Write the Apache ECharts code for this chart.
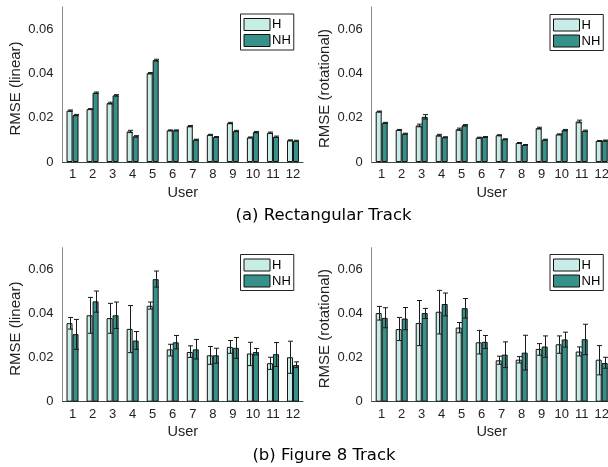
<!DOCTYPE html>
<html>
<head>
<meta charset="utf-8">
<script src="https://cdn.jsdelivr.net/npm/echarts@6/dist/echarts.min.js"></script>
<style>html,body{margin:0;padding:0;background:#fff;}#c{width:608px;height:467px;}</style>
</head>
<body>
<div id="c"></div>
<script>
// ---- data ----
const users = ['1','2','3','4','5','6','7','8','9','10','11','12'];
const seriesNames = ['H', 'NH'];
const yTicks = [0, 0.02, 0.04, 0.06];
const captions = ['(a) Rectangular Track', '(b) Figure 8 Track'];

// (a) Rectangular track, linear RMSE
const rectLinH   = [0.0232,0.0239,0.0266,0.0138,0.0401,0.0143,0.0162,0.0123,0.0176,0.0111,0.0132,0.0098];
const rectLinNH  = [0.0212,0.0313,0.0301,0.0116,0.0460,0.0143,0.0101,0.0113,0.0140,0.0135,0.0114,0.0096];
const rectLinErrH  = [0.0003,0.0002,0.0004,0.0005,0.0003,0.0002,0.0003,0.0002,0.0003,0.0002,0.0003,0.0002];
const rectLinErrNH = [0.0003,0.0003,0.0003,0.0003,0.0004,0.0002,0.0002,0.0002,0.0003,0.0003,0.0003,0.0002];
// (a) Rectangular track, rotational RMSE
const rectRotH   = [0.0228,0.0145,0.0165,0.0121,0.0148,0.0110,0.0121,0.0086,0.0153,0.0125,0.0183,0.0095];
const rectRotNH  = [0.0177,0.0128,0.0204,0.0112,0.0166,0.0113,0.0103,0.0077,0.0101,0.0144,0.0141,0.0097];
const rectRotErrH  = [0.0002,0.0002,0.0006,0.0004,0.0005,0.0002,0.0002,0.0002,0.0004,0.0002,0.0006,0.0002];
const rectRotErrNH = [0.0002,0.0002,0.0010,0.0002,0.0003,0.0002,0.0002,0.0002,0.0002,0.0003,0.0003,0.0002];
// (b) Figure 8 track, linear RMSE
const f8LinH    = [0.0357,0.0393,0.0380,0.0331,0.0436,0.0238,0.0226,0.0211,0.0249,0.0219,0.0175,0.0202];
const f8LinHLo  = [0.0330,0.0311,0.0311,0.0223,0.0421,0.0208,0.0201,0.0170,0.0220,0.0164,0.0147,0.0129];
const f8LinHHi  = [0.0383,0.0474,0.0447,0.0437,0.0453,0.0261,0.0254,0.0251,0.0278,0.0270,0.0202,0.0275];
const f8LinNH   = [0.0307,0.0456,0.0393,0.0278,0.0557,0.0270,0.0238,0.0211,0.0245,0.0226,0.0216,0.0167];
const f8LinNHLo = [0.0238,0.0407,0.0333,0.0238,0.0521,0.0240,0.0194,0.0175,0.0197,0.0213,0.0160,0.0155];
const f8LinNHHi = [0.0374,0.0503,0.0453,0.0319,0.0594,0.0301,0.0283,0.0243,0.0292,0.0242,0.0269,0.0181];
// (b) Figure 8 track, rotational RMSE
const f8RotH    = [0.0403,0.0330,0.0358,0.0409,0.0337,0.0270,0.0188,0.0191,0.0240,0.0261,0.0228,0.0191];
const f8RotHLo  = [0.0371,0.0278,0.0255,0.0308,0.0313,0.0217,0.0170,0.0176,0.0211,0.0220,0.0208,0.0122];
const f8RotHHi  = [0.0433,0.0383,0.0460,0.0506,0.0360,0.0324,0.0207,0.0205,0.0264,0.0299,0.0249,0.0255];
const f8RotNH   = [0.0381,0.0378,0.0403,0.0444,0.0425,0.0272,0.0214,0.0223,0.0251,0.0283,0.0284,0.0176];
const f8RotNHLo = [0.0336,0.0327,0.0378,0.0390,0.0380,0.0242,0.0155,0.0144,0.0202,0.0248,0.0214,0.0152];
const f8RotNHHi = [0.0427,0.0428,0.0424,0.0494,0.0469,0.0301,0.0272,0.0302,0.0299,0.0316,0.0352,0.0202];

// ---- layout / style ----
const LIGHT = '#c8ece6', DARK = '#35918a';
const FONT = '"Liberation Sans", Arial, sans-serif';
const panels = [
  {yName:'RMSE (linear)', h:rectLinH, nh:rectLinNH,
   hLo:rectLinH.map((v,i)=>v-rectLinErrH[i]), hHi:rectLinH.map((v,i)=>v+rectLinErrH[i]),
   nhLo:rectLinNH.map((v,i)=>v-rectLinErrNH[i]), nhHi:rectLinNH.map((v,i)=>v+rectLinErrNH[i]),
   grid:{left:62.5, top:7, width:240.5, height:155}, legend:{left:240.5, top:14}},
  {yName:'RMSE (rotational)', h:rectRotH, nh:rectRotNH,
   hLo:rectRotH.map((v,i)=>v-rectRotErrH[i]), hHi:rectRotH.map((v,i)=>v+rectRotErrH[i]),
   nhLo:rectRotNH.map((v,i)=>v-rectRotErrNH[i]), nhHi:rectRotNH.map((v,i)=>v+rectRotErrNH[i]),
   grid:{left:371.7, top:7, width:240, height:155}, legend:{left:550, top:14.5}},
  {yName:'RMSE (linear)', h:f8LinH, nh:f8LinNH, hLo:f8LinHLo, hHi:f8LinHHi, nhLo:f8LinNHLo, nhHi:f8LinNHHi,
   grid:{left:62.5, top:247.7, width:240.5, height:154}, legend:{left:240.5, top:254.5}},
  {yName:'RMSE (rotational)', h:f8RotH, nh:f8RotNH, hLo:f8RotHLo, hHi:f8RotHHi, nhLo:f8RotNHLo, nhHi:f8RotNHHi,
   grid:{left:371.7, top:247.7, width:240, height:154}, legend:{left:550, top:254.5}}
];

function errRender(offset) {
  return function (params, api) {
    const x = api.value(0);
    const lo = api.coord([x, api.value(1)]);
    const hi = api.coord([x, api.value(2)]);
    const cx = Math.round(lo[0] + offset) + 0.5;
    const cw = 2.5;
    const st = {stroke:'#1a1a1a', lineWidth:1};
    return {type:'group', children:[
      {type:'line', shape:{x1:cx, y1:lo[1], x2:cx, y2:hi[1]}, style:st},
      {type:'line', shape:{x1:cx-cw, y1:hi[1], x2:cx+cw, y2:hi[1]}, style:st},
      {type:'line', shape:{x1:cx-cw, y1:lo[1], x2:cx+cw, y2:lo[1]}, style:st}
    ]};
  };
}

const option = {
  animation:false,
  grid:[], xAxis:[], yAxis:[], series:[], legend:[],
  graphic:[
    {type:'text', x:323.5, y:216, style:{text:captions[0], fontFamily:'"DejaVu Sans"', fontSize:16.5, fill:'#000', align:'center', verticalAlign:'middle'}},
    {type:'text', x:324, y:456, style:{text:captions[1], fontFamily:'"DejaVu Sans"', fontSize:16.5, fill:'#000', align:'center', verticalAlign:'middle'}}
  ]
};

panels.forEach((p, k) => {
  option.grid.push(Object.assign({containLabel:false, outerBoundsMode:'none'}, p.grid));
  option.xAxis.push({
    type:'category', gridIndex:k, data:users,
    name:'User', nameLocation:'middle', nameGap:23,
    nameTextStyle:{fontFamily:FONT, fontSize:14.5, color:'#222'},
    axisLine:{lineStyle:{color:'#444', width:1}},
    axisTick:{show:false},
    axisLabel:{interval:0, margin:6, fontFamily:FONT, fontSize:13, color:'#222'}
  });
  option.yAxis.push({
    type:'value', gridIndex:k, min:0, max:0.07, interval:0.02,
    name:p.yName, nameLocation:'middle', nameGap:39,
    nameTextStyle:{fontFamily:FONT, fontSize:15, color:'#222', padding:[0,8,0,0]},
    axisLine:{show:true, lineStyle:{color:'#888', width:1}},
    axisTick:{show:false},
    splitLine:{show:false},
    axisLabel:{showMaxLabel:false, margin:9, fontFamily:FONT, fontSize:13, color:'#222',
      formatter:(v)=> yTicks.indexOf(v) >= 0 ? String(v) : ''}
  });
  const barBase = {type:'bar', xAxisIndex:k, yAxisIndex:k, barWidth:6, barGap:'0%', z:2};
  option.series.push(Object.assign({}, barBase, {name:seriesNames[0], data:p.h,
    itemStyle:{color:LIGHT, borderColor:'#111', borderWidth:1}}));
  option.series.push(Object.assign({}, barBase, {name:seriesNames[1], data:p.nh,
    itemStyle:{color:DARK, borderColor:'#111', borderWidth:1}}));
  option.series.push({type:'custom', xAxisIndex:k, yAxisIndex:k, z:5, silent:true,
    renderItem:errRender(-3), encode:{x:0, y:[1,2]},
    data:users.map((u,i)=>[i, p.hLo[i], p.hHi[i]])});
  option.series.push({type:'custom', xAxisIndex:k, yAxisIndex:k, z:5, silent:true,
    renderItem:errRender(3), encode:{x:0, y:[1,2]},
    data:users.map((u,i)=>[i, p.nhLo[i], p.nhHi[i]])});
  option.legend.push({
    data:seriesNames, orient:'vertical', left:p.legend.left, top:p.legend.top,
    padding:[4,3,3,3], itemWidth:26, itemHeight:12, itemGap:3,
    backgroundColor:'#fff', borderColor:'#222', borderWidth:1, borderRadius:0,
    icon:'rect', selectedMode:false,
    itemStyle:{borderColor:'#111', borderWidth:1},
    textStyle:{fontFamily:FONT, fontSize:13, color:'#000', padding:[0,0,0,-3]}
  });
});

const chart = echarts.init(document.getElementById('c'), null, {renderer:'canvas'});
chart.setOption(option);
</script>
</body>
</html>
